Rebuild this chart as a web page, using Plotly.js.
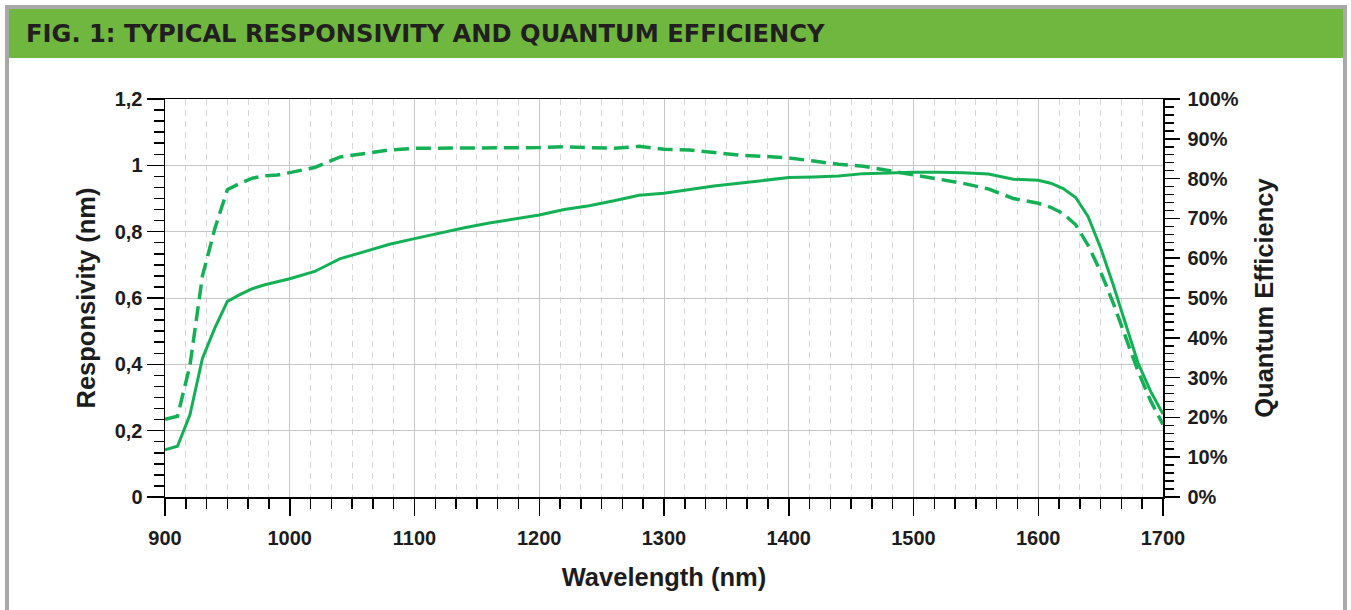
<!DOCTYPE html>
<html>
<head>
<meta charset="utf-8">
<script src="https://cdn.plot.ly/plotly-3.0.1.min.js"></script>
<style>
  html, body { margin: 0; padding: 0; background: #ffffff; }
  #chart { width: 1351px; height: 610px; }
</style>
</head>
<body>
<div id="chart"></div>
<script>
// ---- data ----
const wavelength = [900, 910, 920, 930, 940, 950, 960, 970, 980, 990, 1000, 1020, 1040, 1060, 1080, 1100, 1120, 1140, 1160, 1180, 1200, 1220, 1240, 1260, 1280, 1300, 1320, 1340, 1360, 1380, 1400, 1420, 1440, 1460, 1480, 1500, 1520, 1540, 1560, 1580, 1600, 1610, 1620, 1630, 1640, 1650, 1660, 1670, 1680, 1690, 1700];
const responsivity = [0.142, 0.153, 0.248, 0.418, 0.51, 0.590, 0.610, 0.628, 0.640, 0.648, 0.658, 0.680, 0.718, 0.740, 0.762, 0.779, 0.796, 0.812, 0.826, 0.838, 0.850, 0.867, 0.878, 0.893, 0.910, 0.916, 0.928, 0.938, 0.946, 0.955, 0.963, 0.965, 0.968, 0.975, 0.978, 0.979, 0.979, 0.978, 0.974, 0.958, 0.955, 0.946, 0.930, 0.903, 0.845, 0.751, 0.641, 0.524, 0.404, 0.319, 0.250];
const quantumEfficiency = [19.5, 20.3, 33.0, 55.5, 67.5, 77.2, 78.8, 80.1, 80.7, 80.9, 81.5, 82.8, 85.4, 86.3, 87.2, 87.6, 87.6, 87.6, 87.6, 87.7, 87.8, 88.0, 87.7, 87.6, 88.1, 87.4, 87.2, 86.6, 85.9, 85.6, 85.2, 84.4, 83.6, 83.1, 82.0, 81.0, 79.8, 78.8, 77.4, 75.0, 73.8, 72.8, 71.2, 68.4, 63.2, 56.6, 48.8, 40.2, 31.6, 24.2, 18.2];

const titleText = 'FIG. 1: TYPICAL RESPONSIVITY AND QUANTUM EFFICIENCY';
const xTitle = 'Wavelength (nm)';
const yTitle = 'Responsivity (nm)';
const y2Title = 'Quantum Efficiency';

// ---- layout geometry ----
const W = 1351, H = 610;
const M = { l: 165, r: 188, t: 99, b: 113 };
const PW = W - M.l - M.r, PH = H - M.t - M.b;
const px = x => (x - M.l) / PW;
const py = y => (H - M.b - y) / PH;

const GREEN = '#14b055';
const FONT = '"Liberation Sans", Arial, sans-serif';
const HEAD_FONT = '"DejaVu Sans", "Liberation Sans", Arial, sans-serif';
const INK = '#1c1c1c';

const traces = [
  {
    x: wavelength, y: responsivity, type: 'scatter', mode: 'lines',
    name: 'Responsivity', line: { color: GREEN, width: 3 }, yaxis: 'y'
  },
  {
    x: wavelength, y: quantumEfficiency, type: 'scatter', mode: 'lines',
    name: 'Quantum Efficiency', line: { color: GREEN, width: 3.5, dash: '15px,7px' }, yaxis: 'y2'
  }
];

const tickFont = { family: FONT, size: 20, color: INK, weight: 700 };
const axTitleFont = { family: FONT, size: 25.5, color: INK, weight: 700 };

const layout = {
  width: W, height: H,
  margin: M,
  paper_bgcolor: '#ffffff', plot_bgcolor: '#ffffff',
  showlegend: false,
  separators: ',.',
  title: {
    text: titleText,
    xref: 'container', x: 26 / W, xanchor: 'left',
    yref: 'container', y: 1 - 34 / H, yanchor: 'middle',
    font: { family: HEAD_FONT, size: 24.2, color: '#231f20', weight: 700 }
  },
  xaxis: {
    range: [900, 1700], tick0: 900, dtick: 100,
    showline: true, linecolor: '#000', linewidth: 1.5, mirror: true,
    ticks: 'outside', ticklen: 17, tickwidth: 1.5, tickcolor: '#000',
    ticklabelstandoff: 5,
    showgrid: true, gridcolor: '#c6c6c6', gridwidth: 1,
    zeroline: false,
    tickfont: tickFont,
    minor: { dtick: 100 / 6, tick0: 900, ticks: 'outside', ticklen: 10, tickwidth: 1.5, tickcolor: '#000',
             showgrid: true, gridcolor: '#d6d6d6', griddash: '6px,5px', gridwidth: 1 },
    title: { text: xTitle, font: axTitleFont, standoff: 20 }
  },
  yaxis: {
    range: [0, 1.2], tick0: 0, dtick: 0.2,
    showline: true, linecolor: '#000', linewidth: 1.5, mirror: true,
    ticks: 'outside', ticklen: 17, tickwidth: 1.5, tickcolor: '#000',
    showgrid: true, gridcolor: '#c6c6c6', gridwidth: 1,
    zeroline: false,
    tickfont: tickFont,
    minor: { dtick: 0.2 / 6, tick0: 0, ticks: 'outside', ticklen: 10, tickwidth: 1.5, tickcolor: '#000', showgrid: false },
    title: { text: yTitle, font: axTitleFont, standoff: 12 }
  },
  yaxis2: {
    overlaying: 'y', side: 'right',
    range: [0, 100], tick0: 0, dtick: 10, ticksuffix: '%',
    showline: true, linecolor: '#000', linewidth: 1.5,
    ticks: 'outside', ticklen: 15, tickwidth: 1.5, tickcolor: '#000',
    ticklabelstandoff: 4,
    showgrid: false, zeroline: false,
    tickfont: tickFont,
    minor: { dtick: 2, tick0: 0, ticks: 'outside', ticklen: 9, tickwidth: 1.5, tickcolor: '#000', showgrid: false },
    title: { text: y2Title, font: axTitleFont, standoff: 17 }
  },
  shapes: [
    { type: 'rect', xref: 'paper', yref: 'paper', layer: 'below',
      x0: px(9), x1: px(1343), y0: py(9), y1: py(58),
      fillcolor: '#6fb73f', line: { width: 0 } },
    { type: 'rect', xref: 'paper', yref: 'paper', layer: 'above',
      x0: px(7), x1: px(1345), y0: py(7), y1: py(660),
      fillcolor: 'rgba(0,0,0,0)', line: { color: '#a8a8a8', width: 4 } }
  ]
};

Plotly.newPlot('chart', traces, layout, { displayModeBar: false, staticPlot: true });
</script>
</body>
</html>
